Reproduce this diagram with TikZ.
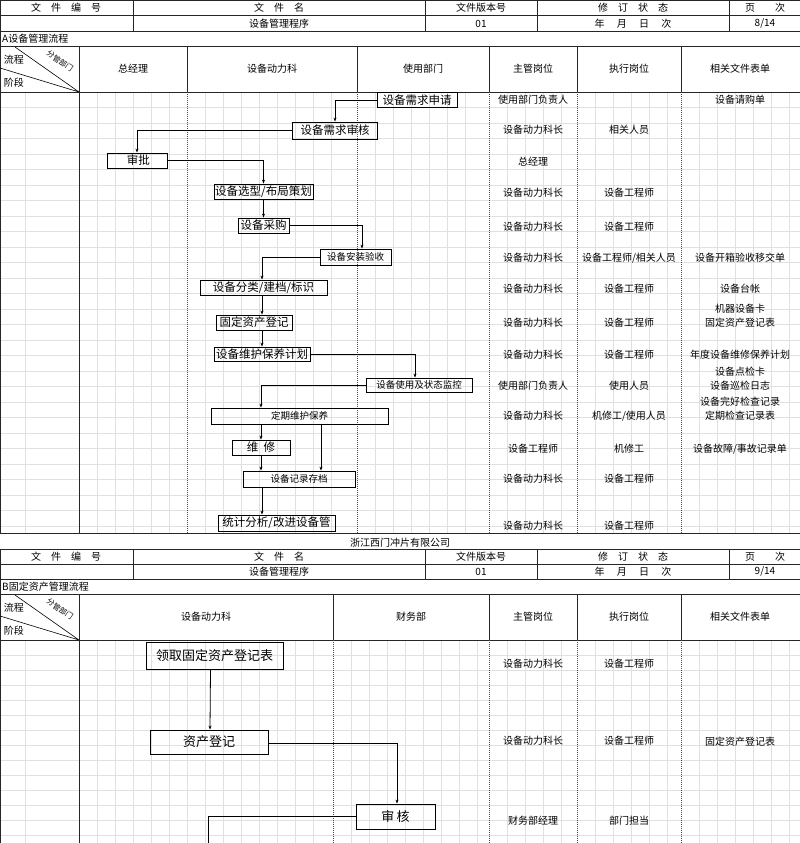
\documentclass[tikz,border=0pt]{standalone}
\usepackage{fontspec}
\setmainfont{Noto Sans CJK SC}
\usetikzlibrary{arrows.meta}
\begin{document}
\begin{tikzpicture}[x=1pt,y=-1pt,
  tl/.style={line width=0.8pt,black!85},
  gl/.style={line width=0.4pt,black!12},
  dl/.style={line width=0.6pt,black!70,dash pattern=on 1pt off 1pt},
  box/.style={draw,line width=0.8pt,inner sep=0pt,font=\fontsize{11.5}{11.5}\selectfont},
  sbox/.style={draw,line width=0.8pt,inner sep=0pt,font=\fontsize{9.5}{9.5}\selectfont},
  bbox/.style={draw,line width=0.8pt,inner sep=0pt,font=\fontsize{13}{13}\selectfont},
  t/.style={font=\fontsize{10}{10}\selectfont,inner sep=0pt},
  arr/.style={line width=0.8pt,-{Stealth[length=4pt,width=3pt]}}]
\useasboundingbox (0,0) rectangle (800,843);
\fill[white] (0,0) rectangle (800,843);
% ---------- grids
\foreach \yy in {107.5,123,138.5,154,169.5,185,200.5,216,231.5,247,262.5,278,293.5,309,324.5,340,355.5,371,386.5,402,417.5,433,448.5,464,479.5,495,510.5,526}
  \draw[gl] (0,\yy) -- (800,\yy);
\foreach \xx in {25,97,115,133,151,169,205,223,241,259,277,295,313,331,375,393,411,429,447,465,507,525,543,561,595,613,631,649,667,699,717,735,753,771,789}
  \draw[gl] (\xx,92) -- (\xx,533);
\foreach \yy in {655,670,685,700,715,730,745,760,775,790,805,820,835}
  \draw[gl] (0,\yy) -- (800,\yy);
\foreach \xx in {25,97,115,133,151,169,187,205,223,241,259,277,295,313,351,369,387,405,423,441,459,477,507,525,543,561,595,613,631,649,667,699,717,735,753,771,789}
  \draw[gl] (\xx,640) -- (\xx,843);
% ---------- header A
\draw[tl] (0,0) rectangle (800,533);
\draw[tl] (0,15.5) -- (800,15.5) (0,31) -- (800,31) (0,46) -- (800,46) (0,92) -- (800,92);
\draw[tl] (133,0) -- (133,31) (425,0) -- (425,31) (537,0) -- (537,31) (729,0) -- (729,31);
\draw[tl] (79,46) -- (79,533) (187,46) -- (187,92) (357,46) -- (357,92) (489,46) -- (489,92) (577,46) -- (577,92) (681,46) -- (681,92);
\draw[dl] (187,92) -- (187,533) (357,92) -- (357,533) (489,92) -- (489,533) (577,92) -- (577,533) (681,92) -- (681,533);
\draw[line width=0.6pt] (15,47) -- (79,92) (0,68) -- (79,92);
\node[t] (h1) at (66,8) {文\quad 件\quad 编\quad 号};
\node[t] (h2) at (279,8) {文\quad 件\quad 名};
\node[t] (h3) at (481,8) {文件版本号};
\node[t] (h4) at (633,8) {修\quad 订\quad 状\quad 态};
\node[t] (h5) at (765,8) {页\qquad 次};
\node[t] (h6) at (279,23.5) {设备管理程序};
\node[t] (h7) at (481,23.5) {01};
\node[t] (h8) at (633,23.5) {年\quad\ 月\quad\ 日\quad\ 次};
\node[t] (h9) at (765,23.5) {8/14};
\node[t,anchor=west] (ta) at (2,39) {A设备管理流程};
\node[t] (c1) at (14,60) {流程};
\node[t] (c2) at (14,83) {阶段};
\node[t,rotate=-35,font=\fontsize{7.5}{7.5}\selectfont] (c3) at (60,61) {分管部门};
\node[t] (k1) at (133,69) {总经理};
\node[t] (k2) at (272,69) {设备动力科};
\node[t] (k3) at (423,69) {使用部门};
\node[t] (k4) at (533,69) {主管岗位};
\node[t] (k5) at (629,69) {执行岗位};
\node[t] (k6) at (740,69) {相关文件表单};
% ---------- right columns A
\foreach \y/\a/\b/\c in {100/使用部门负责人//设备请购单, 130/设备动力科长/相关人员/, 162/总经理//, 193/设备动力科长/设备工程师/, 227/设备动力科长/设备工程师/, 258/设备动力科长/{设备工程师/相关人员}/设备开箱验收移交单, 289/设备动力科长/设备工程师/设备台帐, 323/设备动力科长/设备工程师/固定资产登记表, 355/设备动力科长/设备工程师/年度设备维修保养计划, 386/使用部门负责人/使用人员/设备巡检日志, 416/设备动力科长/{机修工/使用人员}/定期检查记录表, 449/设备工程师/机修工/{设备故障/事故记录单}, 479/设备动力科长/设备工程师/, 526/设备动力科长/设备工程师/}
{ \node[t] at (533,\y) {\a}; \node[t] at (629,\y) {\b}; \node[t] at (740,\y) {\c}; }
\node[t] (r1) at (740,309) {机器设备卡};
\node[t] (r2) at (740,372) {设备点检卡};
\node[t] (r3) at (740,402) {设备完好检查记录};
% ---------- nodes A
\node[box,minimum width=80,minimum height=15] (n1) at (417,100) {设备需求申请};
\node[box,minimum width=85,minimum height=17] (n2) at (335,130.5) {设备需求审核};
\node[box,minimum width=60,minimum height=15] (n3) at (137,160.5) {\ 审批\hfill};
\node[box,minimum width=99,minimum height=15] (n4) at (263.5,191.5) {设备选型/布局策划};
\node[box,minimum width=51,minimum height=15] (n5) at (263.5,225.5) {设备采购};
\node[sbox,minimum width=71,minimum height=16] (n6) at (355.5,257) {设备安装验收};
\node[box,minimum width=127,minimum height=15] (n7) at (263.5,287.5) {设备分类/建档/标识};
\node[box,minimum width=76,minimum height=15] (n8) at (254,322.5) {固定资产登记};
\node[box,minimum width=96,minimum height=14] (n9) at (262,354) {设备维护保养计划};
\node[sbox,minimum width=106,minimum height=14] (n10) at (419,385) {设备使用及状态监控};
\node[sbox,minimum width=177,minimum height=16] (n11) at (299.5,416) {定期维护保养};
\node[box,minimum width=58,minimum height=15] (n12) at (261,447.5) {维\ \ 修};
\node[sbox,minimum width=112,minimum height=16] (n13) at (299,479) {设备记录存档};
\node[box,minimum width=117,minimum height=16] (n14) at (276.5,523) {统计分析/改进设备管};
% ---------- arrows A
\draw[arr] (n1.west) -| (n2.north);
\draw[arr] (n2.west) -| (n3.north);
\draw[arr] (n3.east) -| (n4.north);
\draw[arr] (n4.south) -- (n5.north);
\draw[arr] (n5.east) -| ([xshift=6.5pt]n6.north);
\draw[arr] (n6.west) -| ([xshift=-1.5pt]n7.north);
\draw[arr] ([xshift=-1.5pt]n7.south) -- ([xshift=8pt]n8.north);
\draw[arr] ([xshift=8pt]n8.south) -- (n9.north);
\draw[arr] (n9.east) -| ([xshift=-4pt]n10.north);
\draw[arr] (n10.west) -| ([xshift=-38.5pt]n11.north);
\draw[arr] ([xshift=-38.5pt]n11.south) -- (n12.north);
\draw[arr] ([xshift=21.5pt]n11.south) -- ([xshift=22pt]n13.north);
\draw[arr] (n12.south) -- ([xshift=-38pt]n13.north);
\draw[arr] ([xshift=-37pt]n13.south) -- ([xshift=-14.5pt]n14.north);
% ---------- company line
\node[t] (co) at (400,543) {浙江西门冲片有限公司};
% ---------- header B
\draw[tl] (0,549) -- (800,549) (0,564) -- (800,564) (0,579) -- (800,579) (0,594) -- (800,594) (0,640) -- (800,640);
\draw[tl] (0,549) -- (0,843) (800,549) -- (800,843);
\draw[tl] (133,549) -- (133,579) (425,549) -- (425,579) (537,549) -- (537,579) (729,549) -- (729,579);
\draw[tl] (79,594) -- (79,843) (333,594) -- (333,640) (489,594) -- (489,640) (577,594) -- (577,640) (681,594) -- (681,640);
\draw[dl] (333,640) -- (333,843) (489,640) -- (489,843) (577,640) -- (577,843) (681,640) -- (681,843);
\draw[line width=0.6pt] (15,595) -- (79,640) (0,616) -- (79,640);
\node[t] (g1) at (66,556.5) {文\quad 件\quad 编\quad 号};
\node[t] (g2) at (279,556.5) {文\quad 件\quad 名};
\node[t] (g3) at (481,556.5) {文件版本号};
\node[t] (g4) at (633,556.5) {修\quad 订\quad 状\quad 态};
\node[t] (g5) at (765,556.5) {页\qquad 次};
\node[t] (g6) at (279,571.5) {设备管理程序};
\node[t] (g7) at (481,571.5) {01};
\node[t] (g8) at (633,571.5) {年\quad\ 月\quad\ 日\quad\ 次};
\node[t] (g9) at (765,571.5) {9/14};
\node[t,anchor=west] (tb) at (2,587) {B固定资产管理流程};
\node[t] (d1) at (14,608) {流程};
\node[t] (d2) at (14,631) {阶段};
\node[t,rotate=-35,font=\fontsize{7.5}{7.5}\selectfont] (d3) at (60,609) {分管部门};
\node[t] (e1) at (206,617) {设备动力科};
\node[t] (e2) at (411,617) {财务部};
\node[t] (e4) at (533,617) {主管岗位};
\node[t] (e5) at (629,617) {执行岗位};
\node[t] (e6) at (740,617) {相关文件表单};
\node[t] at (533,664) {设备动力科长}; \node[t] at (629,664) {设备工程师};
\node[t] at (533,741) {设备动力科长}; \node[t] at (629,741) {设备工程师}; \node[t] at (740,742) {固定资产登记表};
\node[t] at (533,821) {财务部经理}; \node[t] at (629,821) {部门担当};
% ---------- nodes B
\node[bbox,minimum width=137,minimum height=27] (b1) at (214.5,655.5) {领取固定资产登记表};
\node[bbox,minimum width=118,minimum height=24] (b2) at (209,742) {资产登记};
\node[bbox,minimum width=79,minimum height=25] (b3) at (395.5,816.5) {审\,核};
\coordinate (bend) at (208,843);
\draw[arr] ([xshift=-4pt]b1.south) -- ([xshift=1pt]b2.north);
\draw[arr] ([yshift=-1pt]b2.east) -| ([xshift=1.5pt]b3.north);
\draw[line width=0.8pt] (b3.west) -| (bend);
\end{tikzpicture}
\end{document}
